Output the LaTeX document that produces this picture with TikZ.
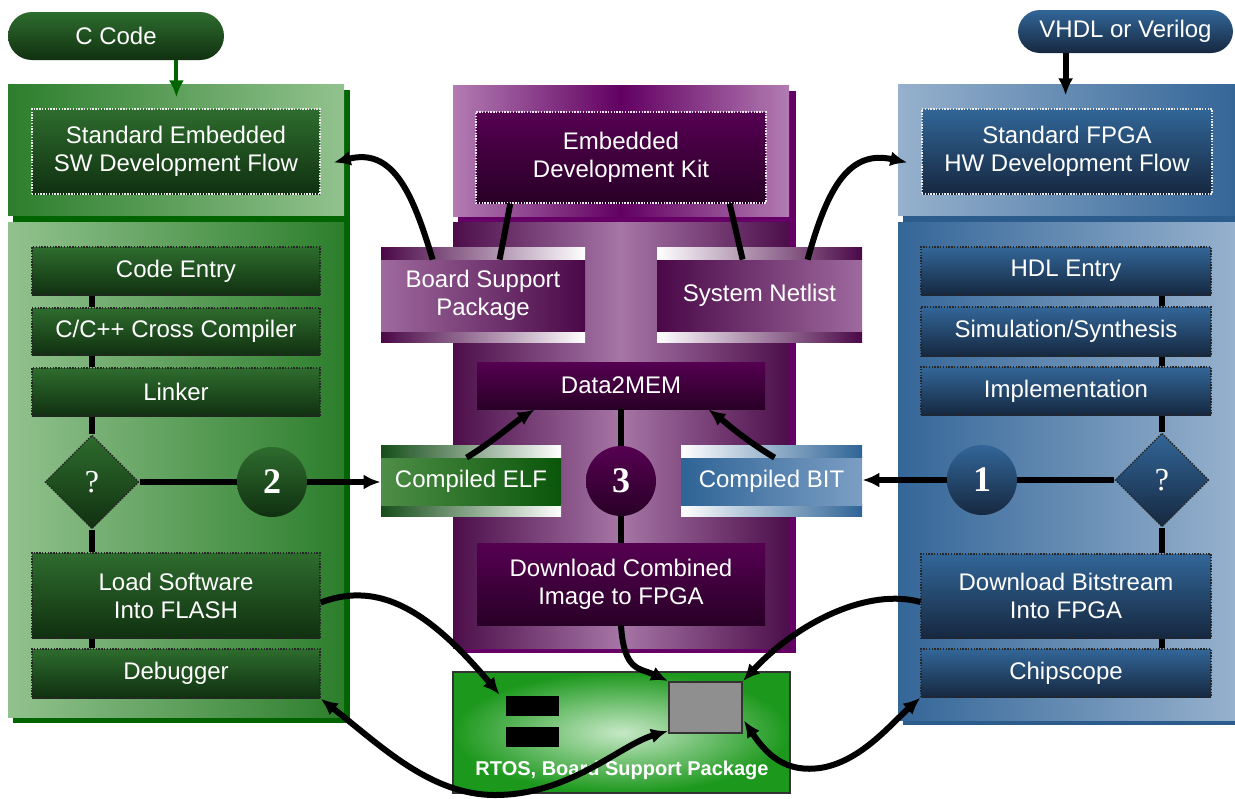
\documentclass[tikz,border=0pt]{standalone}
\usepackage{fontspec}
\setmainfont{Liberation Sans}
\newfontfamily\numfont{Liberation Serif}
\usetikzlibrary{shapes.geometric,arrows.meta,calc}
\definecolor{gboxtop}{RGB}{46,108,46}
\definecolor{gboxbot}{RGB}{16,48,16}
\definecolor{gplight}{RGB}{146,194,142}
\definecolor{gpdark}{RGB}{44,126,44}
\definecolor{gshadow}{RGB}{0,100,0}
\definecolor{bboxtop}{RGB}{50,102,152}
\definecolor{bboxbot}{RGB}{22,40,64}
\definecolor{bplight}{RGB}{150,177,205}
\definecolor{bpdark}{RGB}{52,102,152}
\definecolor{bshadow}{RGB}{44,92,140}
\definecolor{pboxtop}{RGB}{86,0,82}
\definecolor{pboxbot}{RGB}{40,0,38}
\definecolor{phlight}{RGB}{178,124,178}
\definecolor{phdark}{RGB}{98,0,98}
\definecolor{pllight}{RGB}{166,118,166}
\definecolor{pldark}{RGB}{76,14,74}
\definecolor{pshadow}{RGB}{102,0,102}
\definecolor{bsplight}{RGB}{158,106,158}
\definecolor{bspdark}{RGB}{74,8,72}
\definecolor{elfleft}{RGB}{78,142,70}
\definecolor{elfright}{RGB}{10,86,10}
\definecolor{elfstrip}{RGB}{22,78,26}
\definecolor{bitleft}{RGB}{46,100,150}
\definecolor{bitright}{RGB}{124,158,196}
\definecolor{boardin}{RGB}{198,232,198}
\definecolor{boardout}{RGB}{28,152,28}
\definecolor{chipgray}{RGB}{143,143,143}
\begin{document}
\begin{tikzpicture}[x=0.5pt,y=-0.5pt,
  sz/.style 2 args={minimum width=#1, minimum height=#2},
  dbord/.style={draw=black!85, line width=0.7pt, dash pattern=on 0.7pt off 0.7pt},
  wbord/.style={draw=white!85!gray, line width=0.7pt, dash pattern=on 0.7pt off 0.7pt},
  txt/.style={rectangle, text=white, font=\fontsize{12}{14}\selectfont, align=center, inner sep=0pt},
  gbox/.style={txt, top color=gboxtop, bottom color=gboxbot},
  bbox/.style={txt, top color=bboxtop, bottom color=bboxbot},
  pbox/.style={txt, top color=pboxtop, bottom color=pboxbot},
  numc/.style={circle, minimum size=35pt, inner sep=0pt, text=white, font=\numfont\bfseries\fontsize{18}{18}\selectfont},
  qdiam/.style={diamond, aspect=1, minimum width=47pt, minimum height=47pt, inner sep=0pt, dbord, text=white, font=\numfont\fontsize{16}{16}\selectfont},
  conn/.style={line width=3pt, black},
  arr/.style={-{Latex[length=8.5pt,width=7.5pt]}},
  darr/.style={{Latex[length=8.5pt,width=7.5pt]}-{Latex[length=8.5pt,width=7.5pt]}}
]
\useasboundingbox (0,0) rectangle (1235,798);
\fill[white] (0,0) rectangle (1235,798);

% ---------- left (green) panel
\fill[gshadow] (13,90) rectangle (350,723);
\shade[left color=gpdark, right color=gplight] (8,84) rectangle (344,215);
\shade[left color=gplight, right color=gpdark] (8,222) rectangle (344,717);
% ---------- right (blue) panel
\fill[bshadow] (903,90) rectangle (1235,725);
\shade[left color=bplight, right color=bpdark] (898,84) rectangle (1235,215);
\shade[left color=bpdark, right color=bplight] (898,222) rectangle (1235,720);
% ---------- middle (purple) panel
\fill[pshadow] (458,91) rectangle (796,653);
\shade[left color=phlight, right color=phlight, middle color=phdark] (453,85) rectangle (789,216);
\shade[left color=pldark, right color=pldark, middle color=pllight] (453,222) rectangle (789,648);

% ---------- pills
\node[gbox, rounded corners=12pt, sz={108pt}{24pt}] (ccode) at (116,36) {C Code};
\node[bbox, rounded corners=11pt, sz={107.5pt}{21.5pt}] (vhdl) at (1125.5,31.5) {VHDL or Verilog};

% ---------- left column
\node[gbox, wbord, sz={144pt}{42.5pt}] (swflow) at (176,151.5) {Standard Embedded\\SW Development Flow};
\node[gbox, dbord, sz={144pt}{24pt}] (codeentry) at (176,271) {Code Entry};
\node[gbox, dbord, sz={144pt}{23.5pt}] (cccomp) at (176,331.5) {C/C++ Cross Compiler};
\node[gbox, dbord, sz={144pt}{24pt}] (linker) at (176,392) {Linker};
\node[qdiam, top color=gboxtop, bottom color=gboxbot] (ldiam) at (92,482) {?};
\node[numc, top color=gboxtop, bottom color=gboxbot] (c2) at (272,482) {2};
\node[gbox, dbord, sz={144pt}{42.5pt}] (loadsw) at (176,595.5) {Load Software\\Into FLASH};
\node[gbox, dbord, sz={144pt}{24.5pt}] (debugger) at (176,673.5) {Debugger};

% ---------- right column
\node[bbox, wbord, sz={145pt}{42.5pt}] (hwflow) at (1067,151.5) {Standard FPGA\\HW Development Flow};
\node[bbox, dbord, sz={145pt}{24pt}] (hdl) at (1066,271) {HDL Entry};
\node[bbox, dbord, sz={145pt}{24.5pt}] (simsyn) at (1066,331.5) {Simulation/Synthesis};
\node[bbox, dbord, sz={145pt}{24pt}] (impl) at (1066,391) {Implementation};
\node[qdiam, top color=bboxtop, bottom color=bboxbot] (rdiam) at (1162,480) {?};
\node[numc, top color=bboxtop, bottom color=bboxbot] (c1) at (982,480) {1};
\node[bbox, dbord, sz={145pt}{42pt}] (dlbit) at (1066,596) {Download Bitstream\\Into FPGA};
\node[bbox, dbord, sz={145pt}{24pt}] (chipscope) at (1066,673) {Chipscope};

% ---------- middle column
\node[pbox, wbord, sz={145pt}{45.5pt}] (edk) at (621,157.5) {Embedded\\Development Kit};
\shade[left color=bspdark, right color=white] (381,247) rectangle (585,259);
\shade[left color=bspdark, right color=white] (381,330) rectangle (585,342);
\node[txt, left color=bsplight, right color=bspdark, sz={102pt}{35.5pt}] (bsp) at (483,295.5) {Board Support\\Package};
\shade[left color=white, right color=bspdark] (657,247) rectangle (862,259);
\shade[left color=white, right color=bspdark] (657,330) rectangle (862,342);
\node[txt, left color=bspdark, right color=bsplight, sz={102.5pt}{35.5pt}] (netlist) at (759.5,295.5) {System Netlist};
\node[pbox, sz={144pt}{23.5pt}] (data2mem) at (621,385.5) {Data2MEM};
\node[numc, top color=pboxtop, bottom color=pboxbot] (c3) at (621,481) {3};
\shade[left color=elfstrip, right color=white] (381,445) rectangle (561,457);
\shade[left color=elfstrip, right color=white] (381,504) rectangle (561,516);
\node[txt, left color=elfleft, right color=elfright, sz={90pt}{23.5pt}] (elf) at (471,481.5) {Compiled ELF};
\shade[left color=white, right color=bitleft] (681,445) rectangle (862,457);
\shade[left color=white, right color=bitleft] (681,504) rectangle (862,516);
\node[txt, left color=bitleft, right color=bitright, sz={90.5pt}{23.5pt}] (bit) at (771.5,481.5) {Compiled BIT};
\node[pbox, sz={144pt}{41pt}] (dlcomb) at (621,584) {Download Combined\\Image to FPGA};

% ---------- board
\node[rectangle, draw=black!80, line width=1pt, inner color=boardin, outer color=boardout, inner sep=0pt, sz={168.5pt}{60.5pt}] (board) at (621.5,732.5) {};
\node[rectangle, fill=black, inner sep=0pt, sz={26.5pt}{10pt}] (mem1) at (532.5,706) {};
\node[rectangle, fill=black, inner sep=0pt, sz={26.5pt}{10pt}] (mem2) at (532.5,737) {};
\node[rectangle, fill=chipgray, draw=black!80, line width=1pt, inner sep=0pt, sz={36.5pt}{25.5pt}] (chip) at (705.5,707.5) {};
\node[text=white, font=\bfseries\fontsize{10}{12}\selectfont, inner sep=0pt] (rtos) at (622,770) {RTOS, Board Support Package};

% ---------- straight connectors
\draw[line width=2pt, gshadow, arr] ($(ccode.south east)+(-48,0)$) -- ($(ccode.south east)+(-48,37)$);
\draw[conn, arr] ($(vhdl.south west)+(48,0)$) -- ($(vhdl.south west)+(48,42)$);

\draw[conn] (codeentry.south -| ldiam) -- (cccomp.north -| ldiam);
\draw[conn] (cccomp.south -| ldiam) -- (linker.north -| ldiam);
\draw[conn] (linker.south -| ldiam) -- (ldiam.north);
\draw[conn] (ldiam.south) -- (loadsw.north -| ldiam);
\draw[conn] (loadsw.south -| ldiam) -- (debugger.north -| ldiam);
\draw[conn] (ldiam.east) -- (c2.west);
\draw[conn, arr] (c2.east) -- (elf.west |- c2.east);

\draw[conn] (hdl.south -| rdiam) -- (simsyn.north -| rdiam);
\draw[conn] (simsyn.south -| rdiam) -- (impl.north -| rdiam);
\draw[conn] (impl.south -| rdiam) -- (rdiam.north);
\draw[conn] (rdiam.south) -- (dlbit.north -| rdiam);
\draw[conn] (dlbit.south -| rdiam) -- (chipscope.north -| rdiam);
\draw[conn] (rdiam.west) -- (c1.east);
\draw[conn, arr] (c1.west) -- (bit.east |- c1.west);

\draw[conn] (data2mem.south -| c3) -- (c3.north);
\draw[conn] (c3.south) -- (dlcomb.north -| c3);

\draw[conn] ($(edk.south west)+(35,0)$) -- ($(bsp.north west)+(119,0)$);
\draw[conn] ($(edk.south east)+(-37,0)$) -- ($(netlist.north west)+(86,0)$);

% ---------- curved connectors
\draw[conn, arr] ($(bsp.north west)+(52,0)$) .. controls (412,190) and (392,148) .. ($(swflow.east)+(13,11)$);
\draw[conn, arr] ($(netlist.north west)+(151,0)$) .. controls (828,185) and (850,150) .. ($(hwflow.west)+(-14,11)$);
\draw[conn, arr] ($(elf.north west)+(86,0)$) .. controls (495,440) and (515,422) .. ($(data2mem.south west)+(58,0)$);
\draw[conn, arr] ($(bit.north west)+(94,0)$) .. controls (745,440) and (725,422) .. ($(data2mem.south east)+(-57,0)$);

\draw[conn, arr] ($(loadsw.east)+(0,7)$) .. controls (380,580) and (430,612) .. ($(mem1.north west)+(-6,-1)$);
\draw[conn, arr] (dlcomb.south -| c3) .. controls (624,672) and (640,668) .. (chip.north west);
\draw[conn, arr] ($(dlbit.west)+(0,6)$) .. controls (870,588) and (800,620) .. (chip.north east);
\draw[conn, darr] (debugger.south east) .. controls (380,745) and (430,795) .. (495,795)
   .. controls (570,795) and (620,745) .. ($(chip.south west)+(0,-3)$);
\draw[conn, darr] ($(chip.east)+(1,13)$) .. controls (770,760) and (790,772) .. (820,768)
   .. controls (860,762) and (890,725) .. (chipscope.south west);
\end{tikzpicture}
\end{document}
